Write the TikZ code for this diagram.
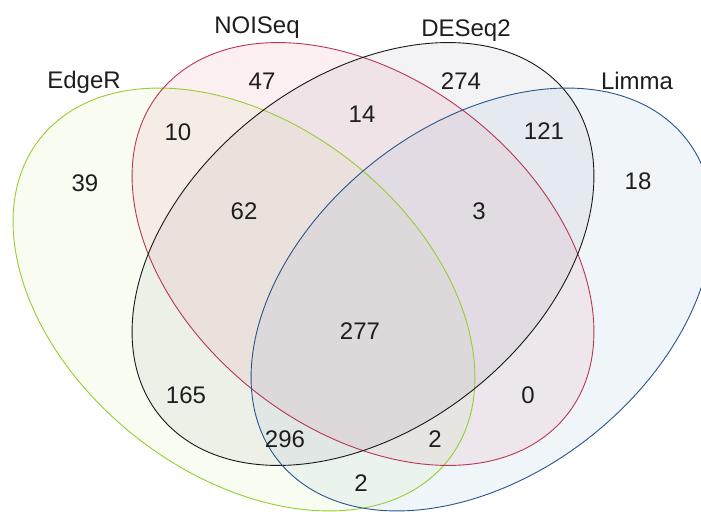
\documentclass[tikz,border=0pt]{standalone}
\usepackage{fontspec}
\setmainfont{Liberation Sans}
\definecolor{edgeL}{RGB}{150,205,50}
\definecolor{noiL}{RGB}{185,55,80}
\definecolor{desL}{RGB}{25,25,25}
\definecolor{limL}{RGB}{40,85,140}
\definecolor{edgeF}{RGB}{180,230,70}
\definecolor{noiF}{RGB}{215,85,110}
\definecolor{desF}{RGB}{125,115,135}
\definecolor{limF}{RGB}{75,135,195}
\definecolor{txt}{RGB}{30,30,30}
\tikzset{
  lab/.style={anchor=base,yshift=-8.6bp,inner sep=0pt,text=txt,font=\fontsize{24bp}{28bp}\selectfont},
  vline/.style={line width=0.9bp}
}
\begin{document}
\begin{tikzpicture}[x=1bp,y=-1bp]
\useasboundingbox (0,0) rectangle (701,512);
\clip (0,0) rectangle (701,512);
\fill[white] (0,0) rectangle (701,512);
% fills
\begin{scope}[shift={(244,299.5)},xscale=231,yscale=211.5]
  \fill[edgeF,fill opacity=0.07,rotate=-45] (0,0) ellipse (1.169 and 0.795);
\end{scope}
\begin{scope}[shift={(363,254)},xscale=231,yscale=211.5]
  \fill[noiF,fill opacity=0.09,rotate=-45] (0,0) ellipse (1.169 and 0.795);
\end{scope}
\begin{scope}[shift={(363,254)},xscale=231,yscale=211.5]
  \fill[desF,fill opacity=0.09,rotate=45] (0,0) ellipse (1.169 and 0.795);
\end{scope}
\begin{scope}[shift={(482,299.5)},xscale=231,yscale=211.5]
  \fill[limF,fill opacity=0.08,rotate=45] (0,0) ellipse (1.169 and 0.795);
\end{scope}
% outlines
\begin{scope}[shift={(244,299.5)},xscale=231,yscale=211.5]
  \draw[edgeL,vline,rotate=-45] (0,0) ellipse (1.169 and 0.795);
\end{scope}
\begin{scope}[shift={(363,254)},xscale=231,yscale=211.5]
  \draw[noiL,vline,rotate=-45] (0,0) ellipse (1.169 and 0.795);
\end{scope}
\begin{scope}[shift={(363,254)},xscale=231,yscale=211.5]
  \draw[desL,vline,rotate=45] (0,0) ellipse (1.169 and 0.795);
\end{scope}
\begin{scope}[shift={(482,299.5)},xscale=231,yscale=211.5]
  \draw[limL,vline,rotate=45] (0,0) ellipse (1.169 and 0.795);
\end{scope}
% set labels
\node[lab] (lEdge) at (84,80) {EdgeR};
\node[lab] (lNoi) at (257,25) {NOISeq};
\node[lab] (lDes) at (466,28) {DESeq2};
\node[lab] (lLim) at (637,81) {Limma};
% counts
\node[lab] (n47) at (262,81) {47};
\node[lab] (n10) at (178,132) {10};
\node[lab] (n39) at (85,183) {39};
\node[lab] (n62) at (244,211) {62};
\node[lab] (n14) at (362,114) {14};
\node[lab] (n274) at (461,81) {274};
\node[lab] (n121) at (544,131) {121};
\node[lab] (n18) at (638,181) {18};
\node[lab] (n3) at (479,211) {3};
\node[lab] (n277) at (360,331) {277};
\node[lab] (n165) at (186,395) {165};
\node[lab] (n296) at (285,439) {296};
\node[lab] (n0) at (528,395) {0};
\node[lab] (n2a) at (435,439) {2};
\node[lab] (n2b) at (361,483) {2};
\end{tikzpicture}
\end{document}
